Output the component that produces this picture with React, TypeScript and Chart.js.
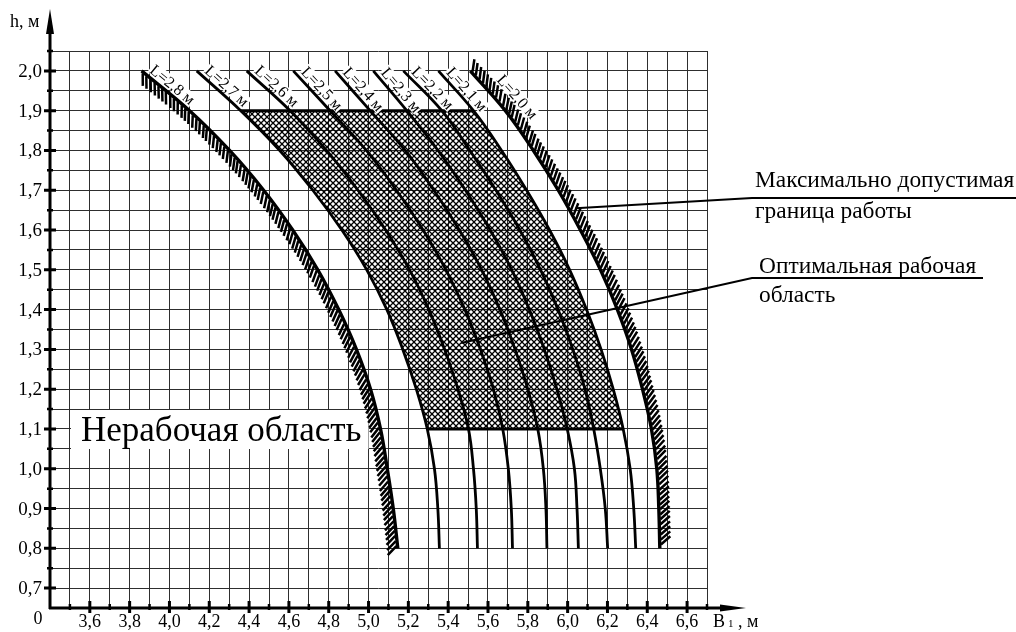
import { useEffect, useRef } from "react";
import { Chart, registerables } from "chart.js";

Chart.register(...registerables);

// ---------- data ----------
const hLevels = [2.0, 1.9, 1.8, 1.7, 1.6, 1.5, 1.4, 1.3, 1.2, 1.1, 1.0, 0.9, 0.8];

const curveNames = ["L=2,8 м", "L=2,7 м", "L=2,6 м", "L=2,5 м", "L=2,4 м", "L=2,3 м", "L=2,2 м", "L=2,1 м", "L=2,0 м"];

const b28 = [3.860, 4.101, 4.302, 4.473, 4.619, 4.745, 4.850, 4.939, 5.010, 5.060, 5.094, 5.124, 5.147];
const b27 = [4.137, 4.358, 4.554, 4.720, 4.866, 4.991, 5.092, 5.172, 5.240, 5.295, 5.331, 5.348, 5.356];
const b26 = [4.388, 4.606, 4.789, 4.947, 5.086, 5.206, 5.303, 5.382, 5.449, 5.502, 5.527, 5.541, 5.547];
const b25 = [4.622, 4.807, 4.989, 5.140, 5.274, 5.389, 5.484, 5.562, 5.627, 5.674, 5.702, 5.717, 5.723];
const b24 = [4.832, 5.008, 5.184, 5.328, 5.456, 5.568, 5.660, 5.736, 5.800, 5.850, 5.878, 5.891, 5.896];
const b23 = [5.024, 5.192, 5.349, 5.487, 5.611, 5.719, 5.808, 5.883, 5.946, 5.998, 6.034, 6.047, 6.054];
const b22 = [5.175, 5.368, 5.509, 5.640, 5.760, 5.864, 5.952, 6.026, 6.087, 6.131, 6.164, 6.189, 6.201];
const b21 = [5.351, 5.527, 5.668, 5.794, 5.909, 6.010, 6.095, 6.168, 6.229, 6.279, 6.314, 6.332, 6.342];
const b20 = [5.511, 5.687, 5.828, 5.953, 6.064, 6.165, 6.250, 6.321, 6.376, 6.421, 6.448, 6.458, 6.463];

const curves = [b28, b27, b26, b25, b24, b23, b22, b21, b20];

// optimal working area: between L=2,7 and L=2,1, from h=1,9 to h=1,1
const optimalLeft = 1;
const optimalRight = 7;
const optimalTop = 1.9;
const optimalBottom = 1.1;

const xGrid = [3.4, 3.5, 3.6, 3.7, 3.8, 3.9, 4.0, 4.1, 4.2, 4.3, 4.4, 4.5, 4.6, 4.7, 4.8, 4.9, 5.0, 5.1, 5.2, 5.3, 5.4, 5.5, 5.6, 5.7, 5.8, 5.9, 6.0, 6.1, 6.2, 6.3, 6.4, 6.5, 6.6, 6.7];
const yGrid = [0.65, 0.7, 0.75, 0.8, 0.85, 0.9, 0.95, 1.0, 1.05, 1.1, 1.15, 1.2, 1.25, 1.3, 1.35, 1.4, 1.45, 1.5, 1.55, 1.6, 1.65, 1.7, 1.75, 1.8, 1.85, 1.9, 1.95, 2.0, 2.05];

const xTickValues = [3.6, 3.8, 4.0, 4.2, 4.4, 4.6, 4.8, 5.0, 5.2, 5.4, 5.6, 5.8, 6.0, 6.2, 6.4, 6.6];
const xTickLabels = ["3,6", "3,8", "4,0", "4,2", "4,4", "4,6", "4,8", "5,0", "5,2", "5,4", "5,6", "5,8", "6,0", "6,2", "6,4", "6,6"];
const xMinorValues = [3.5, 3.7, 3.9, 4.1, 4.3, 4.5, 4.7, 4.9, 5.1, 5.3, 5.5, 5.7, 5.9, 6.1, 6.3, 6.5, 6.7];
const yTickValues = [0.7, 0.8, 0.9, 1.0, 1.1, 1.2, 1.3, 1.4, 1.5, 1.6, 1.7, 1.8, 1.9, 2.0];
const yTickLabels = ["0,7", "0,8", "0,9", "1,0", "1,1", "1,2", "1,3", "1,4", "1,5", "1,6", "1,7", "1,8", "1,9", "2,0"];
const yMinorValues = [0.75, 0.85, 0.95, 1.05, 1.15, 1.25, 1.35, 1.45, 1.55, 1.65, 1.75, 1.85, 1.95, 2.05];

const nonWorkText = "Нерабочая область";
const nonWorkBoxX = [3.5, 5.0];
const nonWorkBoxY = [1.05, 1.15];

const note1Lines = ["Максимально допустимая", "граница работы"];
const note1Anchor = { x: 6.04, y: 1.655 };
const note2Lines = ["Оптимальная рабочая", "область"];
const note2Anchor = { x: 5.465, y: 1.316 };

const SERIF = '"Liberation Serif", "Times New Roman", serif';
const GRID = "#2e2e2e";

// ---------- helpers ----------
type P = { x: number; y: number; cp1x?: number; cp1y?: number; cp2x?: number; cp2y?: number };

function traceForward(ctx: CanvasRenderingContext2D, pts: P[], i0: number, i1: number) {
  for (let i = i0; i < i1; i++) {
    const a = pts[i], b = pts[i + 1];
    ctx.bezierCurveTo(a.cp2x ?? a.x, a.cp2y ?? a.y, b.cp1x ?? b.x, b.cp1y ?? b.y, b.x, b.y);
  }
}
function traceBackward(ctx: CanvasRenderingContext2D, pts: P[], i0: number, i1: number) {
  for (let i = i0; i > i1; i--) {
    const a = pts[i], b = pts[i - 1];
    ctx.bezierCurveTo(a.cp1x ?? a.x, a.cp1y ?? a.y, b.cp2x ?? b.x, b.cp2y ?? b.y, b.x, b.y);
  }
}

function samples(pts: P[]) {
  const out: { x: number; y: number; tx: number; ty: number }[] = [];
  for (let i = 0; i < pts.length - 1; i++) {
    const a = pts[i], b = pts[i + 1];
    const c1x = a.cp2x ?? a.x, c1y = a.cp2y ?? a.y, c2x = b.cp1x ?? b.x, c2y = b.cp1y ?? b.y;
    const N = 60;
    const last = i === pts.length - 2;
    for (let k = 0; k <= (last ? N : N - 1); k++) {
      const t = k / N, u = 1 - t;
      const x = u * u * u * a.x + 3 * u * u * t * c1x + 3 * u * t * t * c2x + t * t * t * b.x;
      const y = u * u * u * a.y + 3 * u * u * t * c1y + 3 * u * t * t * c2y + t * t * t * b.y;
      let dx = 3 * u * u * (c1x - a.x) + 6 * u * t * (c2x - c1x) + 3 * t * t * (b.x - c2x);
      let dy = 3 * u * u * (c1y - a.y) + 6 * u * t * (c2y - c1y) + 3 * t * t * (b.y - c2y);
      if (Math.hypot(dx, dy) < 1e-6) { dx = b.x - a.x; dy = b.y - a.y; }
      out.push({ x, y, tx: dx, ty: dy });
    }
  }
  return out;
}

function drawHatch(ctx: CanvasRenderingContext2D, pts: P[], side: number) {
  const s = samples(pts);
  const spacing = 5, len = 12.5, ang = (40 * Math.PI) / 180;
  let acc = 0, next = 2;
  ctx.save();
  ctx.strokeStyle = "#000";
  ctx.lineWidth = 2.5;
  ctx.lineCap = "butt";
  ctx.beginPath();
  for (let i = 0; i < s.length; i++) {
    if (i > 0) acc += Math.hypot(s[i].x - s[i - 1].x, s[i].y - s[i - 1].y);
    if (acc >= next) {
      next += spacing;
      const l = Math.hypot(s[i].tx, s[i].ty);
      const tx = s[i].tx / l, ty = s[i].ty / l;
      const nx = side * -ty, ny = side * tx;
      const dx = nx * Math.cos(ang) + side * tx * Math.sin(ang);
      const dy = ny * Math.cos(ang) + side * ty * Math.sin(ang);
      const sx = s[i].x + nx * 1.2, sy = s[i].y + ny * 1.2;
      ctx.moveTo(sx, sy);
      ctx.lineTo(sx + dx * len, sy + dy * len);
    }
  }
  ctx.stroke();
  ctx.restore();
}

function makePattern(ctx: CanvasRenderingContext2D) {
  const c = document.createElement("canvas");
  c.width = 6; c.height = 6;
  const g = c.getContext("2d")!;
  g.strokeStyle = "#000";
  g.lineWidth = 1.3;
  g.beginPath();
  g.moveTo(-1, -1); g.lineTo(7, 7);
  g.moveTo(7, -1); g.lineTo(-1, 7);
  g.stroke();
  return ctx.createPattern(c, "repeat");
}

function labelGeom(pts: P[], i: number) {
  const p0 = pts[0], p1 = pts[1];
  const l = Math.hypot(p1.x - p0.x, p1.y - p0.y);
  const ux = (p1.x - p0.x) / l, uy = (p1.y - p0.y) / l;
  const hatched = i === curves.length - 1;
  const along = hatched ? 24 : 6;
  const perp = hatched ? 13 : 4;
  const nx = uy, ny = -ux;
  return { x: p0.x + ux * along + nx * perp, y: p0.y + uy * along + ny * perp, ang: Math.atan2(uy, ux) };
}

const LABEL_FONT = `16px ${SERIF}`;

const nomogramPlugin = {
  id: "nomogram",
  beforeDatasetsDraw(chart: any) {
    const ctx: CanvasRenderingContext2D = chart.ctx;
    const xs = chart.scales.x, ys = chart.scales.y;
    const X = (v: number) => xs.getPixelForValue(v);
    const Y = (v: number) => ys.getPixelForValue(v);

    // white box with big label
    const bx0 = Math.round(X(nonWorkBoxX[0])), bx1 = X(nonWorkBoxX[1]);
    const by0 = Math.round(Y(nonWorkBoxY[1])), by1 = Math.round(Y(nonWorkBoxY[0]));
    ctx.save();
    ctx.fillStyle = "#fff";
    ctx.fillRect(bx0 + 1, by0 + 1, bx1 - bx0 - 1, by1 - by0 - 1);
    ctx.fillStyle = "#000";
    ctx.font = `35px ${SERIF}`;
    ctx.textBaseline = "alphabetic";
    ctx.textAlign = "left";
    ctx.fillText(nonWorkText, bx0 + 11, by1 - 8);
    ctx.restore();

    // crosshatched optimal area
    const L = chart.getDatasetMeta(optimalLeft).data as P[];
    const R = chart.getDatasetMeta(optimalRight).data as P[];
    const iTop = hLevels.indexOf(optimalTop);
    const iBot = hLevels.indexOf(optimalBottom);
    ctx.save();
    ctx.beginPath();
    ctx.moveTo(L[iTop].x, L[iTop].y);
    traceForward(ctx, L, iTop, iBot);
    ctx.lineTo(R[iBot].x, R[iBot].y);
    traceBackward(ctx, R, iBot, iTop);
    ctx.closePath();
    const pat = makePattern(ctx);
    if (pat) ctx.fillStyle = pat;
    ctx.fill();
    ctx.strokeStyle = "#000";
    ctx.lineWidth = 3;
    ctx.beginPath();
    ctx.moveTo(L[iTop].x, L[iTop].y);
    ctx.lineTo(R[iTop].x, R[iTop].y);
    ctx.moveTo(L[iBot].x, L[iBot].y);
    ctx.lineTo(R[iBot].x, R[iBot].y);
    ctx.stroke();
    ctx.restore();

    // white backgrounds of curve labels
    ctx.save();
    ctx.font = LABEL_FONT;
    curves.forEach((_, i) => {
      const pts = chart.getDatasetMeta(i).data as P[];
      const g = labelGeom(pts, i);
      const w = ctx.measureText(curveNames[i]).width;
      ctx.save();
      ctx.translate(g.x, g.y);
      ctx.rotate(g.ang);
      ctx.fillStyle = "#fff";
      ctx.fillRect(-1, -12, w + 2, 13);
      ctx.restore();
    });
    ctx.restore();
  },
  afterDatasetsDraw(chart: any) {
    const ctx: CanvasRenderingContext2D = chart.ctx;
    const xs = chart.scales.x, ys = chart.scales.y;
    const X = (v: number) => xs.getPixelForValue(v);
    const Y = (v: number) => ys.getPixelForValue(v);

    // hatching of the limit curves
    drawHatch(ctx, chart.getDatasetMeta(0).data as P[], 1);
    drawHatch(ctx, chart.getDatasetMeta(curves.length - 1).data as P[], -1);

    // curve labels
    ctx.save();
    ctx.font = LABEL_FONT;
    ctx.fillStyle = "#000";
    ctx.textBaseline = "alphabetic";
    curves.forEach((_, i) => {
      const pts = chart.getDatasetMeta(i).data as P[];
      const g = labelGeom(pts, i);
      ctx.save();
      ctx.translate(g.x, g.y);
      ctx.rotate(g.ang);
      ctx.fillText(curveNames[i], 0, 0);
      ctx.restore();
    });
    ctx.restore();

    // axes
    const ox = X(xGrid[0]);
    const oy = Y(yGrid[0]);
    ctx.save();
    ctx.strokeStyle = "#000";
    ctx.fillStyle = "#000";
    ctx.lineWidth = 3;
    ctx.beginPath();
    ctx.moveTo(ox, oy + 1);
    ctx.lineTo(ox, 30);
    ctx.moveTo(ox - 1, oy);
    ctx.lineTo(724, oy);
    ctx.stroke();
    // arrows
    ctx.beginPath();
    ctx.moveTo(ox, 9);
    ctx.lineTo(ox - 4, 34);
    ctx.lineTo(ox + 4, 34);
    ctx.closePath();
    ctx.fill();
    ctx.beginPath();
    ctx.moveTo(746, oy);
    ctx.lineTo(720, oy - 3.5);
    ctx.lineTo(720, oy + 3.5);
    ctx.closePath();
    ctx.fill();
    // ticks
    ctx.lineWidth = 3;
    ctx.beginPath();
    yTickValues.forEach((v) => { ctx.moveTo(ox - 6, Y(v)); ctx.lineTo(ox + 6, Y(v)); });
    xTickValues.forEach((v) => { ctx.moveTo(X(v), oy - 7); ctx.lineTo(X(v), oy + 5); });
    ctx.stroke();
    ctx.lineWidth = 2.5;
    ctx.beginPath();
    yMinorValues.forEach((v) => { ctx.moveTo(ox - 3, Y(v)); ctx.lineTo(ox + 3, Y(v)); });
    xMinorValues.forEach((v) => { ctx.moveTo(X(v), oy - 4); ctx.lineTo(X(v), oy + 2); });
    ctx.stroke();

    // tick labels
    ctx.font = `19px ${SERIF}`;
    ctx.textAlign = "right";
    ctx.textBaseline = "middle";
    yTickValues.forEach((v, i) => ctx.fillText(yTickLabels[i], ox - 8, Y(v) + 1));
    ctx.font = `18px ${SERIF}`;
    ctx.textAlign = "center";
    ctx.textBaseline = "alphabetic";
    xTickValues.forEach((v, i) => ctx.fillText(xTickLabels[i], X(v), oy + 19));
    ctx.fillText("0", ox - 12, oy + 16);

    // axis titles
    ctx.textAlign = "left";
    ctx.fillText("h, м", 10, 27);
    ctx.fillText("B", 713, oy + 19);
    ctx.font = `11px ${SERIF}`;
    ctx.fillText("1", 728, oy + 19);
    ctx.font = `18px ${SERIF}`;
    ctx.fillText(", м", 738, oy + 19);

    // annotations
    ctx.font = `23.4px ${SERIF}`;
    ctx.fillText(note1Lines[0], 755, 187);
    ctx.fillText(note1Lines[1], 755, 218);
    ctx.fillText(note2Lines[0], 759, 273);
    ctx.fillText(note2Lines[1], 759, 302);
    ctx.lineWidth = 2;
    ctx.beginPath();
    ctx.moveTo(X(note1Anchor.x), Y(note1Anchor.y));
    ctx.lineTo(752, 198);
    ctx.lineTo(1016, 198);
    ctx.moveTo(X(note2Anchor.x), Y(note2Anchor.y));
    ctx.lineTo(752, 278);
    ctx.lineTo(983, 278);
    ctx.stroke();
    ctx.restore();
  },
};

export default function App() {
  const ref = useRef<HTMLCanvasElement>(null);
  useEffect(() => {
    const canvas = ref.current!;
    const chart = new Chart(canvas, {
      type: "line",
      data: {
        datasets: curves.map((bs, i) => ({
          label: curveNames[i],
          data: bs.map((x, k) => ({ x, y: hLevels[k] })),
          borderColor: "#000",
          borderWidth: i === 0 || i === curves.length - 1 ? 3.4 : 2.8,
          pointRadius: 0,
          tension: 0.4,
          fill: false,
        })),
      },
      options: {
        animation: false,
        responsive: false,
        devicePixelRatio: 1,
        events: [],
        layout: { padding: { left: 50, top: 51, right: 309, bottom: 24 } },
        plugins: { legend: { display: false }, tooltip: { enabled: false } },
        scales: {
          x: {
            type: "linear",
            min: 3.4,
            max: 6.7,
            afterBuildTicks: (s: any) => { s.ticks = xGrid.map((v) => ({ value: v })); },
            grid: { color: GRID, lineWidth: 1, drawTicks: false },
            border: { display: false },
            ticks: { display: false },
          },
          y: {
            type: "linear",
            min: 0.65,
            max: 2.05,
            afterBuildTicks: (s: any) => { s.ticks = yGrid.map((v) => ({ value: v })); },
            grid: { color: GRID, lineWidth: 1, drawTicks: false },
            border: { display: false },
            ticks: { display: false },
          },
        },
      },
      plugins: [nomogramPlugin],
    } as any);
    return () => chart.destroy();
  }, []);
  return (
    <div style={{ position: "fixed", left: 0, top: 0, width: 1016, height: 632, background: "#fff" }}>
      <canvas ref={ref} width={1016} height={632} style={{ display: "block", width: 1016, height: 632 }} />
    </div>
  );
}
